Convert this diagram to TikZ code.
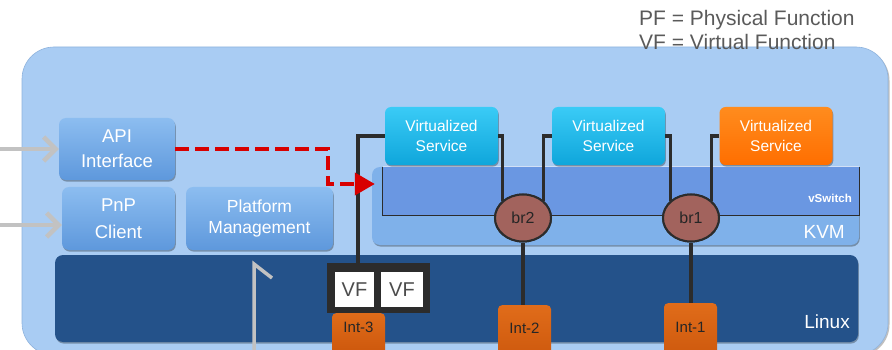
\documentclass[tikz,border=0pt]{standalone}
\usepackage{fontspec}
\setmainfont{Liberation Sans}
\usetikzlibrary{arrows.meta,shapes.geometric,shadows}

\definecolor{outerblue}{HTML}{A9CCF3}
\definecolor{outeredge}{HTML}{8FB3DD}
\definecolor{linuxblue}{HTML}{24528A}
\definecolor{paneltop}{HTML}{8CBDF0}
\definecolor{panelbot}{HTML}{5E98DC}
\definecolor{kvmblue}{HTML}{7FB1EA}
\definecolor{switchblue}{HTML}{6A97E2}
\definecolor{cyantop}{HTML}{3ACBF6}
\definecolor{cyanbot}{HTML}{0FA6DB}
\definecolor{orangetop}{HTML}{FF8C1E}
\definecolor{orangebot}{HTML}{FF6E00}
\definecolor{inttop}{HTML}{E06C1A}
\definecolor{intbot}{HTML}{C9540A}
\definecolor{bridgefill}{HTML}{A2635D}
\definecolor{wirecol}{HTML}{2C2C2C}
\definecolor{arrowgrey}{HTML}{C2C2C2}
\definecolor{dashred}{HTML}{D80000}
\definecolor{legendgrey}{HTML}{5A5A5A}

\begin{document}
\begin{tikzpicture}[x=1pt,y=-1pt,
  softshadow/.style={drop shadow={shadow xshift=0.8pt,shadow yshift=-1.6pt,opacity=0.3,fill=black}},
  panel/.style={rectangle,rounded corners=7pt,top color=paneltop,bottom color=panelbot,
    text=white,align=center,inner sep=0pt,softshadow},
  service/.style={rectangle,rounded corners=6pt,text=white,align=center,inner sep=0pt,
    font=\fontsize{15.5}{20}\selectfont,minimum width=113pt,minimum height=58pt,softshadow},
  cyanservice/.style={service,top color=cyantop,bottom color=cyanbot},
  orangeservice/.style={service,top color=orangetop,bottom color=orangebot},
  bridge/.style={ellipse,draw=wirecol,line width=2pt,fill=bridgefill,minimum width=56pt,
    minimum height=47pt,inner sep=0pt,text=black!85,font=\fontsize{16}{18}\selectfont},
  wire/.style={draw=wirecol,line width=3.5pt,line join=miter},
  intbox/.style={rectangle,rounded corners=4pt,top color=inttop,bottom color=intbot,
    anchor=north,minimum width=53pt,inner xsep=0pt,text height=11.5pt,
    text depth=20pt,text=black!85,font=\fontsize{15}{18}\selectfont},
  vfcell/.style={rectangle,fill=white,minimum height=35pt,inner sep=0pt,text=black!70,
    font=\fontsize{20}{22}\selectfont},
  greyarrow/.style={draw=arrowgrey,line width=4.5pt,-{Straight Barb[length=12pt,width=24pt]}},
  reddash/.style={draw=dashred,line width=4pt,dash pattern=on 14pt off 6pt,
    -{Triangle[length=20pt,width=22pt]}},
  tag/.style={text=white,inner sep=0pt,font=\fontsize{19}{22}\selectfont},
  legend/.style={anchor=base west,inner sep=0pt,text=legendgrey,font=\fontsize{21}{24}\selectfont}
]
\useasboundingbox (0,0) rectangle (892,350);
\clip (0,0) rectangle (892,350);

% host enclosure
\node[rectangle,rounded corners=32pt,fill=outerblue,draw=outeredge,line width=0.6pt,
  minimum width=866pt,minimum height=308pt,inner sep=0pt,
  drop shadow={shadow xshift=1.5pt,shadow yshift=-1.5pt,opacity=0.25,fill=black}]
  (host) at (455,201) {};

% Linux layer
\node[rectangle,rounded corners=8pt,fill=linuxblue,minimum width=803pt,minimum height=87pt,
  inner sep=0pt,softshadow] (linux) at (456.5,298.5) {};
\node[tag,anchor=base east] (linuxlbl) at (850,328) {Linux};

% management blocks
\node[panel,minimum width=116pt,minimum height=62pt,font=\fontsize{18.5}{25}\selectfont]
  (api) at (117,149) {API\\Interface};
\node[panel,minimum width=113pt,minimum height=63pt,font=\fontsize{18.5}{27}\selectfont]
  (pnp) at (118.5,218.5) {PnP\\Client};
\node[panel,minimum width=147pt,minimum height=63pt,font=\fontsize{17.5}{21}\selectfont]
  (plat) at (259.5,218.5) {Platform\\Management};

% KVM and virtual switch
\node[rectangle,rounded corners=8pt,fill=kvmblue,minimum width=487pt,minimum height=78pt,
  inner sep=0pt,softshadow] (kvm) at (615.5,206) {};
\node[tag,anchor=base east] (kvmlbl) at (845,238) {KVM};
\node[rectangle,fill=switchblue,minimum width=476pt,minimum height=48pt,inner sep=0pt]
  (vswitch) at (621,191) {};
\draw[wirecol,line width=1.2pt] (vswitch.north west) -- (vswitch.south west)
  -- (vswitch.south east) -- (vswitch.north east);
\draw[white!70!switchblue,line width=1.2pt] (vswitch.north west) -- (vswitch.north east);
\node[anchor=base east,text=white,inner sep=0pt,font=\bfseries\fontsize{11.5}{13}\selectfont]
  (vswlbl) at (852,202) {vSwitch};

% virtualized services
\node[cyanservice] (vs1) at (441.5,136) {Virtualized\\Service};
\node[cyanservice] (vs2) at (608.5,136) {Virtualized\\Service};
\node[orangeservice] (vs3) at (776,136) {Virtualized\\Service};

% SR-IOV virtual functions
\node[rectangle,fill=wirecol,minimum width=103pt,minimum height=50pt,inner sep=0pt]
  (vf) at (378.5,288) {};
\node[vfcell,minimum width=39pt] (vfa) at (354.5,289.5) {VF};
\node[vfcell,minimum width=42pt] (vfb) at (402,289.5) {VF};

% physical interfaces (labels share one baseline)
\node[intbox,inner ysep=8pt] (int3) at (358.5,313) {Int-3};
\node[intbox,inner ysep=17pt] (int2) at (524.5,305) {Int-2};
\node[intbox,inner ysep=18pt] (int1) at (690.5,303) {Int-1};

% bridges
\node[bridge] (br2) at (523,218) {};
\node[bridge] (br1) at (691,218) {};

% service wiring
\draw[wire] (vs1.west) -| ([xshift=-20.5pt]vf.north);
\draw[wire] (vs1.east) -| (br2.north west);
\draw[wire] (vs2.west) -| (br2.north east);
\draw[wire] (vs2.east) -| (br1.north west);
\draw[wire] (vs3.west) -| (br1.north east);
\draw[wire] (br2.south) -- (br2.south |- int2.north);
\draw[wire] (br1.south) -- (br1.south |- int1.north);

% bridges on top of the wiring
\node[bridge] (br2top) at (br2) {br2};
\node[bridge] (br1top) at (br1) {br1};

% external inputs
\coordinate (inapi) at (0,149);
\coordinate (inpnp) at (0,225);
\draw[greyarrow] (inapi) -- (api.west);
\draw[greyarrow] (inpnp) -- (pnp.west |- inpnp);
\coordinate (upfoot) at (254,352);
\coordinate (uptip) at (254,264);
\coordinate (upbarb) at (272,278);
\draw[arrowgrey,line width=3.5pt,line join=miter] (upfoot) -- (uptip) -- (upbarb);

% control path from the API into KVM
\coordinate (jog) at (328,184);
\draw[reddash] (api.east) -| (jog) -- ([xshift=3pt]jog -| kvm.west);

% legend
\node[legend] (pf) at (639,26) {PF = Physical Function};
\node[legend] (vfl) at (639,50) {VF = Virtual Function};
\end{tikzpicture}
\end{document}
